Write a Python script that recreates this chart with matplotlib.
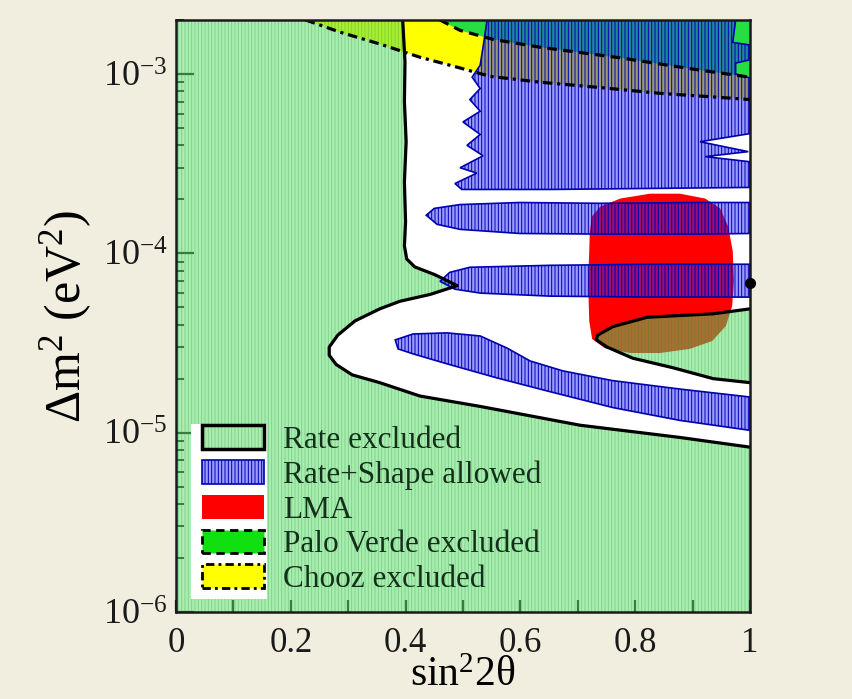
import numpy as np
import matplotlib
matplotlib.use('Agg')
import matplotlib.pyplot as plt
from matplotlib.patches import Polygon, Patch, Rectangle
from matplotlib.ticker import MultipleLocator, LogLocator, NullFormatter

plt.rcParams['font.family'] = ['Liberation Serif', 'DejaVu Serif']
plt.rcParams['mathtext.fontset'] = 'custom'
plt.rcParams['mathtext.rm'] = 'Liberation Serif'
plt.rcParams['mathtext.it'] = 'Liberation Serif:italic'
plt.rcParams['mathtext.default'] = 'regular'
plt.rcParams['axes.unicode_minus'] = False
plt.rcParams['hatch.linewidth'] = 0.7

Y_MIN, Y_MAX = 1e-6, 2e-3

# Rate-only excluded boundary (solid black), from the top edge down and round the cusp
rate_x = [0.395, 0.399, 0.398, 0.401, 0.398, 0.400, 0.398, 0.402, 0.416, 0.451, 0.490,
          0.443, 0.390, 0.355, 0.312, 0.282, 0.267, 0.267, 0.279, 0.307, 0.355, 0.425,
          0.530, 0.704, 0.878, 1.0]
rate_dm2 = [2.0e-3, 1.17e-3, 7.0e-4, 4.2e-4, 2.5e-4, 1.5e-4, 1.1e-4, 9.3e-5, 8.4e-5, 7.6e-5, 6.6e-5,
            5.9e-5, 5.4e-5, 4.9e-5, 4.2e-5, 3.5e-5, 3.0e-5, 2.7e-5, 2.4e-5, 2.1e-5, 1.9e-5, 1.6e-5,
            1.4e-5, 1.1e-5, 9.4e-6, 8.3e-6]

# excluded island on the right
island_x = [1.0, 0.936, 0.821, 0.761, 0.735, 0.732, 0.751, 0.796, 0.866, 0.936, 1.0]
island_dm2 = [4.9e-5, 4.6e-5, 4.4e-5, 3.9e-5, 3.5e-5, 3.3e-5, 3.0e-5, 2.6e-5, 2.3e-5, 2.0e-5, 1.9e-5]

# LMA solar solution
lma_x = [0.721, 0.725, 0.739, 0.774, 0.826, 0.878, 0.922, 0.948, 0.962, 0.970, 0.972,
         0.969, 0.958, 0.934, 0.895, 0.843, 0.791, 0.747, 0.725, 0.720, 0.718, 0.720]
lma_dm2 = [1.32e-4, 1.61e-4, 1.82e-4, 2.02e-4, 2.15e-4, 2.15e-4, 2.02e-4, 1.78e-4, 1.41e-4, 1.03e-4, 7.0e-5,
           5.08e-5, 3.93e-5, 3.24e-5, 2.93e-5, 2.78e-5, 2.78e-5, 2.96e-5, 3.33e-5, 4.19e-5, 6.98e-5, 1.03e-4]

# Rate+Shape allowed islands
band_a_x = [0.436, 0.450, 0.495, 0.599, 0.739, 0.913, 1.0, 1.0, 0.913, 0.739, 0.599, 0.495, 0.455]
band_a_dm2 = [1.63e-4, 1.78e-4, 1.87e-4, 1.92e-4, 1.90e-4, 1.92e-4, 1.92e-4,
              1.29e-4, 1.28e-4, 1.28e-4, 1.29e-4, 1.36e-4, 1.45e-4]

band_b_x = [0.460, 0.477, 0.512, 0.652, 0.826, 1.0, 1.0, 0.826, 0.652, 0.530, 0.486]
band_b_dm2 = [6.98e-5, 7.83e-5, 8.36e-5, 8.57e-5, 8.69e-5, 8.69e-5,
              5.70e-5, 5.70e-5, 5.77e-5, 6.00e-5, 6.31e-5]

band_c_x = [0.382, 0.413, 0.472, 0.530, 0.577, 0.617, 0.674, 0.761, 0.878, 1.0,
            1.0, 0.878, 0.761, 0.646, 0.559, 0.472, 0.413, 0.387]
band_c_dm2 = [3.29e-5, 3.55e-5, 3.60e-5, 3.46e-5, 2.96e-5, 2.51e-5, 2.21e-5, 1.95e-5, 1.75e-5, 1.58e-5,
              1.03e-5, 1.17e-5, 1.38e-5, 1.71e-5, 2.02e-5, 2.42e-5, 2.75e-5, 2.93e-5]

band_d_x = [0.542, 0.535, 0.530, 0.516, 0.530, 0.512, 0.530, 0.500, 0.530, 0.507, 0.535,
            0.495, 0.524, 0.486, 0.498, 0.652, 0.826, 1.0, 1.0, 0.922, 0.997, 0.913, 1.0,
            1.0, 0.975, 0.975, 1.0, 1.0, 0.970, 0.975]
band_d_dm2 = [2.0e-3, 1.41e-3, 1.12e-3, 9.6e-4, 8.3e-4, 7.2e-4, 6.2e-4, 5.4e-4, 4.6e-4, 4.0e-4, 3.5e-4,
              3.0e-4, 2.8e-4, 2.45e-4, 2.27e-4, 2.27e-4, 2.30e-4, 2.33e-4, 3.24e-4, 3.46e-4, 3.69e-4, 4.19e-4, 4.65e-4,
              9.5e-4, 1.0e-3, 1.15e-3, 1.2e-3, 1.45e-3, 1.5e-3, 2.0e-3]

# Chooz and Palo Verde exclusion lines
chooz_x = [0.226, 0.286, 0.355, 0.425, 0.495, 0.547, 0.634, 0.739, 0.843, 0.948, 1.0]
chooz_dm2 = [2.0e-3, 1.71e-3, 1.47e-3, 1.24e-3, 1.08e-3, 9.7e-4, 9.0e-4, 8.4e-4, 7.8e-4, 7.4e-4, 7.2e-4]

pv_x = [0.460, 0.495, 0.552, 0.634, 0.774, 0.913, 1.0]
pv_dm2 = [2.0e-3, 1.75e-3, 1.56e-3, 1.41e-3, 1.23e-3, 1.05e-3, 9.6e-4]

best_fit_x = [1.0]
best_fit_dm2 = [6.8e-5]

x_ticks = [0, 0.2, 0.4, 0.6, 0.8, 1.0]
x_tick_labels = ['0', '0.2', '0.4', '0.6', '0.8', '1']
y_ticks = [1e-6, 1e-5, 1e-4, 1e-3]
y_tick_labels = ['$10^{-6}$', '$10^{-5}$', '$10^{-4}$', '$10^{-3}$']

legend_labels = ['Rate excluded', 'Rate+Shape allowed', 'LMA',
                 'Palo Verde excluded', 'Chooz excluded']

GREEN_FACE = (0.32, 0.88, 0.38, 0.5)
GREEN_HATCH = (0.15, 0.55, 0.25, 0.3)
BLUE_FACE = (0.12, 0.12, 1.0, 0.45)
BLUE_EDGE = '#0000b0'
HATCH = '|||||'


def _poly(xs, ys, **kw):
    return Polygon(np.column_stack([xs, ys]), closed=True, **kw)


fig = plt.figure(figsize=(8.53, 6.99), dpi=100, facecolor='#f1eee0')
ax = fig.add_axes([0.2063, 0.1245, 0.6729, 0.8469])
ax.set_facecolor('white')
ax.set_yscale('log')
ax.set_xlim(0, 1)
ax.set_ylim(Y_MIN, Y_MAX)

# opaque bottom layer: LMA, Chooz, Palo Verde
ax.add_patch(_poly(lma_x, lma_dm2, facecolor='#ff0000', edgecolor='none', zorder=1))
ax.add_patch(_poly(chooz_x + [1.0], chooz_dm2 + [Y_MAX],
                   facecolor='#ffff00', edgecolor='none', zorder=1))
ax.add_patch(_poly(pv_x + [1.0], pv_dm2 + [Y_MAX],
                   facecolor=(0.0, 0.85, 0.3, 0.85), edgecolor='none', zorder=1.5))

# rate excluded area (everything outside the white region) + island
green_x = [0.0, 0.0] + rate_x + [1.0]
green_y = [Y_MIN, Y_MAX] + rate_dm2 + [Y_MIN]
for xs, ys in [(green_x, green_y), (island_x, island_dm2)]:
    ax.add_patch(_poly(xs, ys, facecolor=GREEN_FACE, edgecolor=GREEN_HATCH,
                       hatch=HATCH, lw=0, zorder=2))

# rate+shape allowed
for xs, ys in [(band_a_x, band_a_dm2), (band_b_x, band_b_dm2),
               (band_c_x, band_c_dm2), (band_d_x, band_d_dm2)]:
    ax.add_patch(_poly(xs, ys, facecolor=BLUE_FACE, edgecolor=BLUE_EDGE,
                       hatch=HATCH, lw=1.2, zorder=3))

ax.plot(rate_x, rate_dm2, color='k', lw=2.3, zorder=5)
ax.plot(island_x, island_dm2, color='k', lw=2.3, zorder=5)
ax.plot(chooz_x, chooz_dm2, color='k', lw=2.3, ls=(0, (3, 1.5, 1, 1.5)), zorder=5)
ax.plot(pv_x, pv_dm2, color='k', lw=2.3, ls=(0, (3, 2)), zorder=5)
ax.plot(best_fit_x, best_fit_dm2, 'o', color='k', ms=7, clip_on=False, zorder=12)

# legend: white block behind the handles, text on the green
ax.add_patch(Rectangle((0.026, 0.022), 0.132, 0.295, transform=ax.transAxes,
                       facecolor='white', edgecolor='none', zorder=8))
handles = [
    (Patch(facecolor=GREEN_FACE, edgecolor=GREEN_HATCH, hatch=HATCH, lw=0),
     Patch(facecolor='none', edgecolor='k', lw=2.5)),
    Patch(facecolor=BLUE_FACE, edgecolor=BLUE_EDGE, hatch=HATCH, lw=1.2),
    Patch(facecolor='#ff0000', edgecolor='none'),
    Patch(facecolor='#10e010', edgecolor='k', lw=2, ls=(0, (3, 2))),
    Patch(facecolor='#ffff00', edgecolor='k', lw=2, ls=(0, (3, 1.5, 1, 1.5))),
]
leg = ax.legend(handles, legend_labels, loc='lower left', bbox_to_anchor=(0.045, 0.03),
                frameon=False, fontsize=22.5, handlelength=2.0, handleheight=0.8,
                labelspacing=0.16, handletextpad=0.6, borderpad=0, borderaxespad=0,
                labelcolor='#14301a')
leg.set_zorder(10)

ax.set_xticks(x_ticks, labels=x_tick_labels)
ax.xaxis.set_minor_locator(MultipleLocator(0.1))
ax.set_yticks(y_ticks, labels=y_tick_labels)
ax.yaxis.set_minor_locator(LogLocator(base=10, subs=np.arange(2, 10)))
ax.yaxis.set_minor_formatter(NullFormatter())
ax.tick_params(which='both', direction='in', top=False, right=False, colors='#1a1a1a')
ax.tick_params(axis='x', which='both', length=9, width=1.6, pad=11, labelsize=25)
ax.tick_params(axis='y', which='major', length=13, width=1.6, pad=6, labelsize=26)
ax.tick_params(axis='y', which='minor', length=6, width=1.4)
for s in ax.spines.values():
    s.set_linewidth(1.8)
    s.set_color('#1a1a1a')
    s.set_zorder(11)

ax.set_xlabel('sin$^2$2θ', fontsize=30, labelpad=-3)
ax.set_ylabel('Δm$^2$ (eV$^2$)', fontsize=36, labelpad=6)

fig.savefig('out.png', dpi=100, facecolor=fig.get_facecolor())
